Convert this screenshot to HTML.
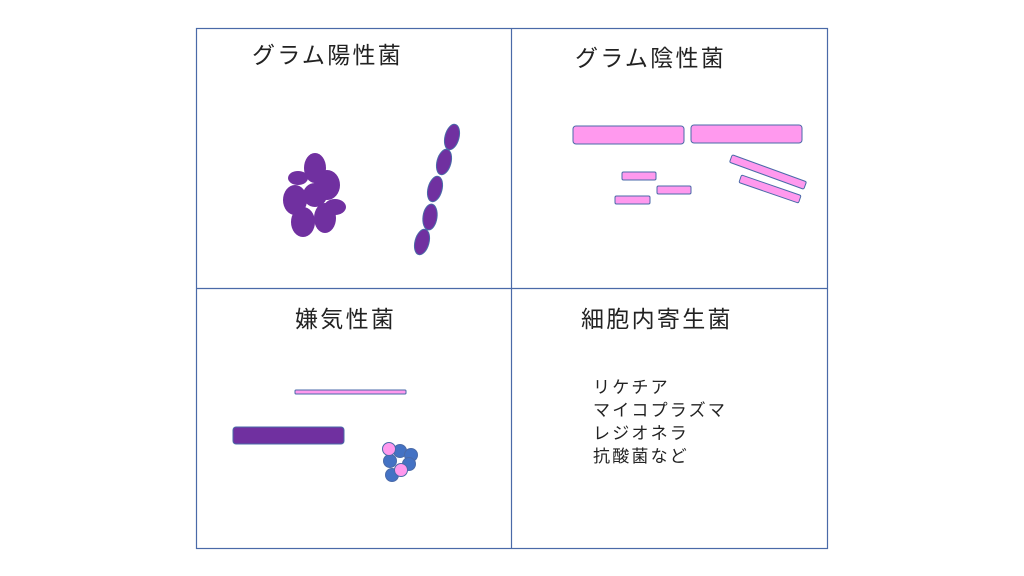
<!DOCTYPE html>
<html><head><meta charset="utf-8"><style>
body{margin:0;background:#fff;width:1024px;height:576px;overflow:hidden}
svg{display:block}
text{font-family:"Liberation Sans","Noto Sans CJK JP",sans-serif;fill:#222}
</style></head><body>
<svg width="1024" height="576" viewBox="0 0 1024 576">
<g fill="none" stroke="#4a6aa8" stroke-width="1.2">
<rect x="196.5" y="28.5" width="631" height="520"/>
<line x1="511.5" y1="28" x2="511.5" y2="549"/>
<line x1="196" y1="288.5" x2="828" y2="288.5"/>
</g>
<g font-size="23" letter-spacing="2.3">
<text x="252" y="63">グラム陽性菌</text>
<text x="575" y="66">グラム陰性菌</text>
<text x="295" y="327">嫌気性菌</text>
<text x="581" y="327">細胞内寄生菌</text>
</g>
<g font-size="17" letter-spacing="2.2">
<text x="593" y="393">リケチア</text>
<text x="593" y="416">マイコプラズマ</text>
<text x="593" y="439">レジオネラ</text>
<text x="593" y="462">抗酸菌など</text>
</g>
<g fill="#7030a0">
<ellipse cx="315" cy="168" rx="11" ry="15"/>
<ellipse cx="298" cy="178" rx="10" ry="7"/>
<ellipse cx="327" cy="185" rx="13" ry="15"/>
<ellipse cx="295" cy="200" rx="12" ry="15"/>
<ellipse cx="315" cy="195" rx="12" ry="12"/>
<ellipse cx="335" cy="207" rx="11" ry="8"/>
<ellipse cx="303" cy="222" rx="12" ry="15"/>
<ellipse cx="325" cy="218" rx="11" ry="15"/>
</g>
<g fill="#7030a0" stroke="#4a6aa8" stroke-width="1">
<ellipse cx="452" cy="137" rx="7" ry="13" transform="rotate(15 452 137)"/>
<ellipse cx="444" cy="162" rx="7" ry="13" transform="rotate(15 444 162)"/>
<ellipse cx="435" cy="189" rx="7" ry="13" transform="rotate(15 435 189)"/>
<ellipse cx="430" cy="217" rx="7" ry="13" transform="rotate(8 430 217)"/>
<ellipse cx="422" cy="242" rx="7" ry="13" transform="rotate(15 422 242)"/>
<rect x="233" y="427" width="111" height="17" rx="3"/>
</g>
<g fill="#ff99ee" stroke="#4a6aa8" stroke-width="1">
<rect x="573" y="126" width="111" height="18" rx="3"/>
<rect x="691" y="125" width="111" height="18" rx="3"/>
<rect x="622" y="172" width="34" height="8" rx="1.5"/>
<rect x="657" y="186" width="34" height="8" rx="1.5"/>
<rect x="615" y="196" width="35" height="8" rx="1.5"/>
<rect x="728.5" y="168" width="79" height="8" rx="1.5" transform="rotate(20 768 172)"/>
<rect x="738.5" y="185" width="63" height="8" rx="1.5" transform="rotate(19 770 189)"/>
<rect x="295" y="390" width="111" height="4" rx="1"/>
</g>
<g stroke="#4a6aa8" stroke-width="1">
<circle cx="400" cy="451" r="6.5" fill="#4472c4"/>
<circle cx="411" cy="455" r="6.5" fill="#4472c4"/>
<circle cx="409" cy="464" r="6.5" fill="#4472c4"/>
<circle cx="390" cy="461" r="6.5" fill="#4472c4"/>
<circle cx="392" cy="475" r="6.5" fill="#4472c4"/>
<circle cx="401" cy="470" r="6.5" fill="#ff99ee"/>
<circle cx="389" cy="449" r="6.5" fill="#ff99ee"/>
</g>
</svg>
</body></html>
